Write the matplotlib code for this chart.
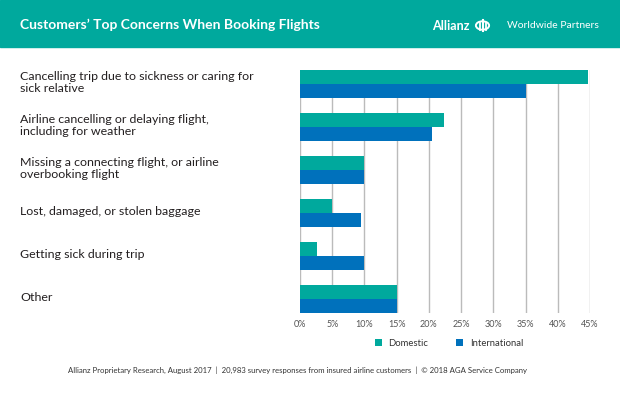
import matplotlib
matplotlib.use("Agg")
import matplotlib.pyplot as plt
from matplotlib.patches import Rectangle, Circle
import numpy as np

categories = [
    "Cancelling trip due to sickness or caring for\nsick relative",
    "Airline cancelling or delaying flight,\nincluding for weather",
    "Missing a connecting flight, or airline\noverbooking flight",
    "Lost, damaged, or stolen baggage",
    "Getting sick during trip",
    "Other",
]
domestic = [44.7, 22.4, 10.0, 5.0, 2.6, 15.0]
international = [35.0, 20.5, 10.0, 9.4, 10.0, 15.0]
xticks = [0, 5, 10, 15, 20, 25, 30, 35, 40, 45]

teal = "#00a99d"
blue = "#0071bc"
W, H = 620, 396

plt.rcParams['font.family'] = ['Lato', 'DejaVu Sans']

fig = plt.figure(figsize=(W / 100, H / 100), dpi=100)
fig.patch.set_facecolor("white")

# header band
fig.patches.append(Rectangle((0, 1 - 47 / H), 1, 47 / H, transform=fig.transFigure,
                             color=teal, zorder=0))
fig.text(20 / W, 1 - 25 / H, "Customers\u2019 Top Concerns When Booking Flights", color="white",
         fontsize=10, fontweight="bold", ha="left", va="center")
fig.text(432 / W, 1 - 25.5 / H, "Allianz", color="white", fontsize=9.1, fontweight="bold",
         ha="left", va="center")
fig.text(507 / W, 1 - 25.5 / H, "Worldwide Partners", color="white", fontsize=7.5,
         ha="left", va="center")

# logo
lx, ly = 482.5, 25.5
fig.patches.append(Circle((lx / W, 1 - ly / H), 6.6 / W, transform=fig.transFigure,
                          fill=False, ec="white", lw=1.4))
fig.add_artist(plt.Line2D([lx / W, lx / W], [1 - 30.5 / H, 1 - 20 / H], color="white", lw=1.5,
                          transform=fig.transFigure))
for dx in (-3.0, 3.0):
    fig.add_artist(plt.Line2D([(lx + dx) / W, (lx + dx) / W], [1 - 29.5 / H, 1 - 22.5 / H],
                              color="white", lw=1.3, transform=fig.transFigure))

# chart area
ax = fig.add_axes([300 / W, (H - 313) / H, 290 / W, 243 / H])
y = np.arange(len(categories))
h = 0.326
ax.barh(y - h / 2, domestic, height=h, color=teal, label="Domestic", zorder=3)
ax.barh(y + h / 2, international, height=h, color=blue, label="International", zorder=3)
ax.set_xlim(0, 45)
ax.set_ylim(len(categories) - 1 + h, -h)
ax.set_xticks(xticks)
ax.set_xticklabels([f"{t}%" for t in xticks], fontsize=6.5, color="#555555")
ax.set_yticks([])
for t in xticks:
    ax.axvline(t, color="#bbbbbb", lw=1, zorder=1)
for s in ax.spines.values():
    s.set_visible(False)
ax.tick_params(axis="x", length=0, pad=5)

for i, c in enumerate(categories):
    ax.text(-280 / 290 * 45, i - 0.03, c, fontsize=8.9, color="#231f20",
            ha="left", va="center", linespacing=1.1, transform=ax.transData, clip_on=False)

fig.legend(loc="center", bbox_to_anchor=(449 / W, 1 - 343 / H), ncol=2, frameon=False,
           fontsize=6.8, handlelength=0.7, handleheight=0.7, columnspacing=3.0,
           handletextpad=0.7, labelcolor="#333333")

fig.text(298 / W, 1 - 370 / H,
         "Allianz Proprietary Research, August 2017  |  20,983 survey responses from insured airline customers  |  \u00a9 2018 AGA Service Company",
         fontsize=5.6, color="#333333", ha="center", va="center")

fig.savefig("out.png", dpi=100)
